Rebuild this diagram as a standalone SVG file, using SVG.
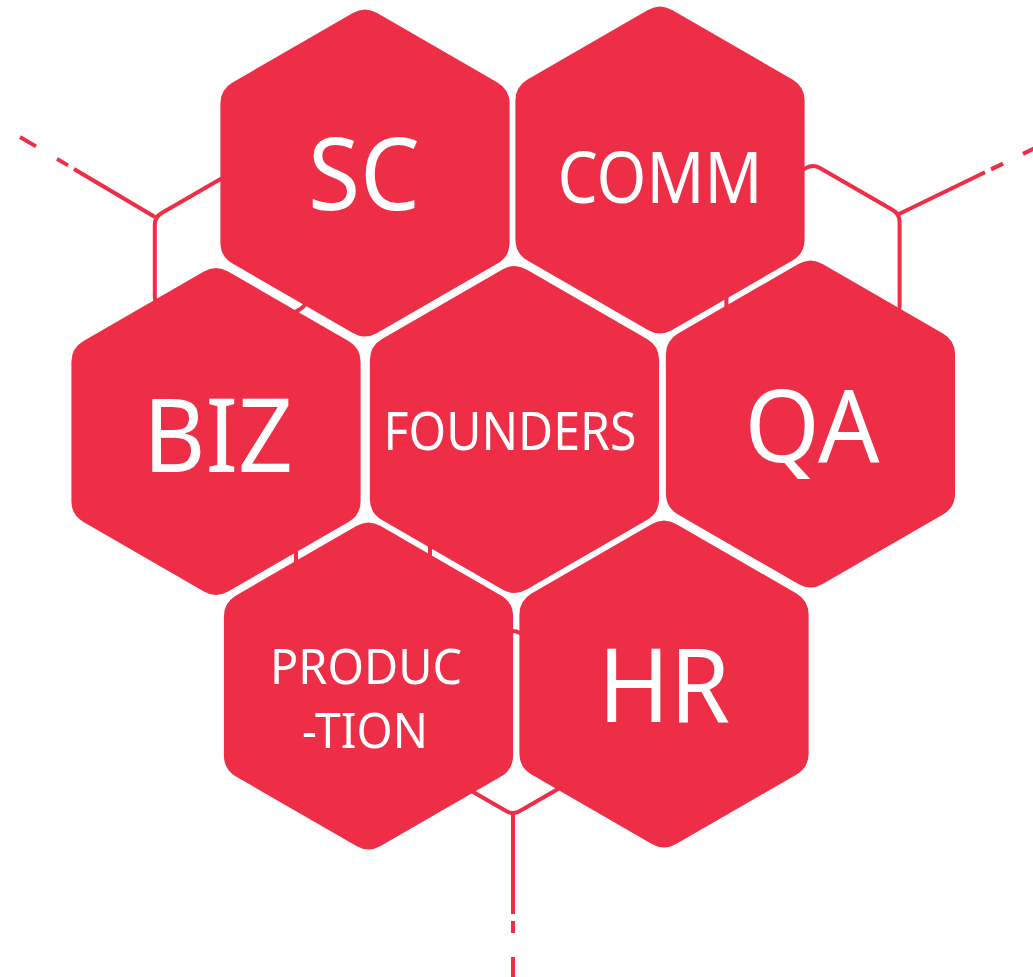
<svg xmlns="http://www.w3.org/2000/svg" xmlns:xlink="http://www.w3.org/1999/xlink" width="1033" height="977" viewBox="0 0 1033 977">
  <defs>
    <style>
      .hex { fill: #EE2D46; }
      .ring { fill: none; stroke: #EE2D46; stroke-width: 4; }
      .dash { stroke: #EE2D46; stroke-width: 4; fill: none; }
      .lbl { fill: #FFFFFF; font-family: "Noto Sans", "Open Sans", sans-serif; font-weight: 400; text-anchor: middle; }
    </style>
    <path id="hexShape" d="M12.12,-160 L132.5,-90.5 Q144.6,-83.5 144.6,-69.5 L144.6,69.5 Q144.6,83.5 132.5,90.5 L12.12,160 Q0,167 -12.12,160 L-132.5,90.5 Q-144.6,83.5 -144.6,69.5 L-144.6,-69.5 Q-144.6,-83.5 -132.5,-90.5 L-12.12,-160 Q0,-167 12.12,-160 Z"/>
  </defs>
  <rect width="1033" height="977" fill="#FFFFFF"/>
  <g id="connectors">
    <path class="ring" d="M237.9,177 L300.3,213 Q307.2,217 307.2,225 L307.2,297 Q307.2,305 300.3,309 L237.9,345 Q231,349 224.1,345 L161.7,309 Q154.8,305 154.8,297 L154.8,225 Q154.8,217 161.7,213 L224.1,177 Q231,173 237.9,177 Z"/>
    <path class="ring" d="M819.9,168 L892.7,210 Q899.6,214 899.6,222 L899.6,306 Q899.6,314 892.7,318 L819.9,360 Q813,364 806.1,360 L733.3,318 Q726.4,314 726.4,306 L726.4,222 Q726.4,214 733.3,210 L806.1,168 Q813,164 819.9,168 Z"/>
    <path class="ring" d="M519.9,633 L586.6,671.5 Q593.5,675.5 593.5,683.5 L593.5,760.5 Q593.5,768.5 586.6,772.5 L519.9,811 Q513,815 506.1,811 L439.4,772.5 Q432.5,768.5 432.5,760.5 L432.5,683.5 Q432.5,675.5 439.4,671.5 L506.1,633 Q513,629 519.9,633 Z"/>
    <line class="dash" x1="296" y1="535" x2="296" y2="570"/>
    <line class="dash" x1="430" y1="535" x2="430" y2="570"/>
    <line class="dash" x1="155" y1="217" x2="74" y2="169"/>
    <line class="dash" x1="68" y1="165.4" x2="57" y2="158.9"/>
    <line class="dash" x1="36" y1="146.4" x2="20" y2="137"/>
    <line class="dash" x1="899" y1="214" x2="985" y2="172.3"/>
    <line class="dash" x1="991" y1="169.4" x2="1003" y2="163.6"/>
    <line class="dash" x1="1023" y1="153.9" x2="1035" y2="148"/>
    <line class="dash" x1="513" y1="813" x2="513" y2="914"/>
    <line class="dash" x1="513" y1="921" x2="513" y2="933"/>
    <line class="dash" x1="513" y1="957" x2="513" y2="979"/>
  </g>
  <g id="node-sc">
    <use xlink:href="#hexShape" href="#hexShape" class="hex" x="365" y="173"/>
    <text class="lbl" x="364" y="210" font-size="100" textLength="112" lengthAdjust="spacingAndGlyphs">SC</text>
  </g>
  <g id="node-comm">
    <use xlink:href="#hexShape" href="#hexShape" class="hex" x="660" y="170"/>
    <text class="lbl" x="660" y="203" font-size="71" textLength="205" lengthAdjust="spacingAndGlyphs">COMM</text>
  </g>
  <g id="node-biz">
    <use xlink:href="#hexShape" href="#hexShape" class="hex" x="216" y="431.5"/>
    <text class="lbl" x="218" y="472" font-size="102" textLength="150" lengthAdjust="spacingAndGlyphs">BIZ</text>
  </g>
  <g id="node-founders">
    <use xlink:href="#hexShape" href="#hexShape" class="hex" x="514.5" y="429.5"/>
    <text class="lbl" x="510" y="450" font-size="52" textLength="253" lengthAdjust="spacingAndGlyphs">FOUNDERS</text>
  </g>
  <g id="node-qa">
    <use xlink:href="#hexShape" href="#hexShape" class="hex" x="810.5" y="424"/>
    <text class="lbl" x="812" y="462" font-size="100" textLength="135" lengthAdjust="spacingAndGlyphs">QA</text>
  </g>
  <g id="node-production">
    <use xlink:href="#hexShape" href="#hexShape" class="hex" x="368.5" y="686"/>
    <text class="lbl" x="366" y="684" font-size="50" textLength="192" lengthAdjust="spacingAndGlyphs">PRODUC</text>
    <text class="lbl" x="365" y="748" font-size="50" textLength="126" lengthAdjust="spacingAndGlyphs">-TION</text>
  </g>
  <g id="node-hr">
    <use xlink:href="#hexShape" href="#hexShape" class="hex" x="664" y="684"/>
    <text class="lbl" x="664" y="722" font-size="102" textLength="132" lengthAdjust="spacingAndGlyphs">HR</text>
  </g>
</svg>
